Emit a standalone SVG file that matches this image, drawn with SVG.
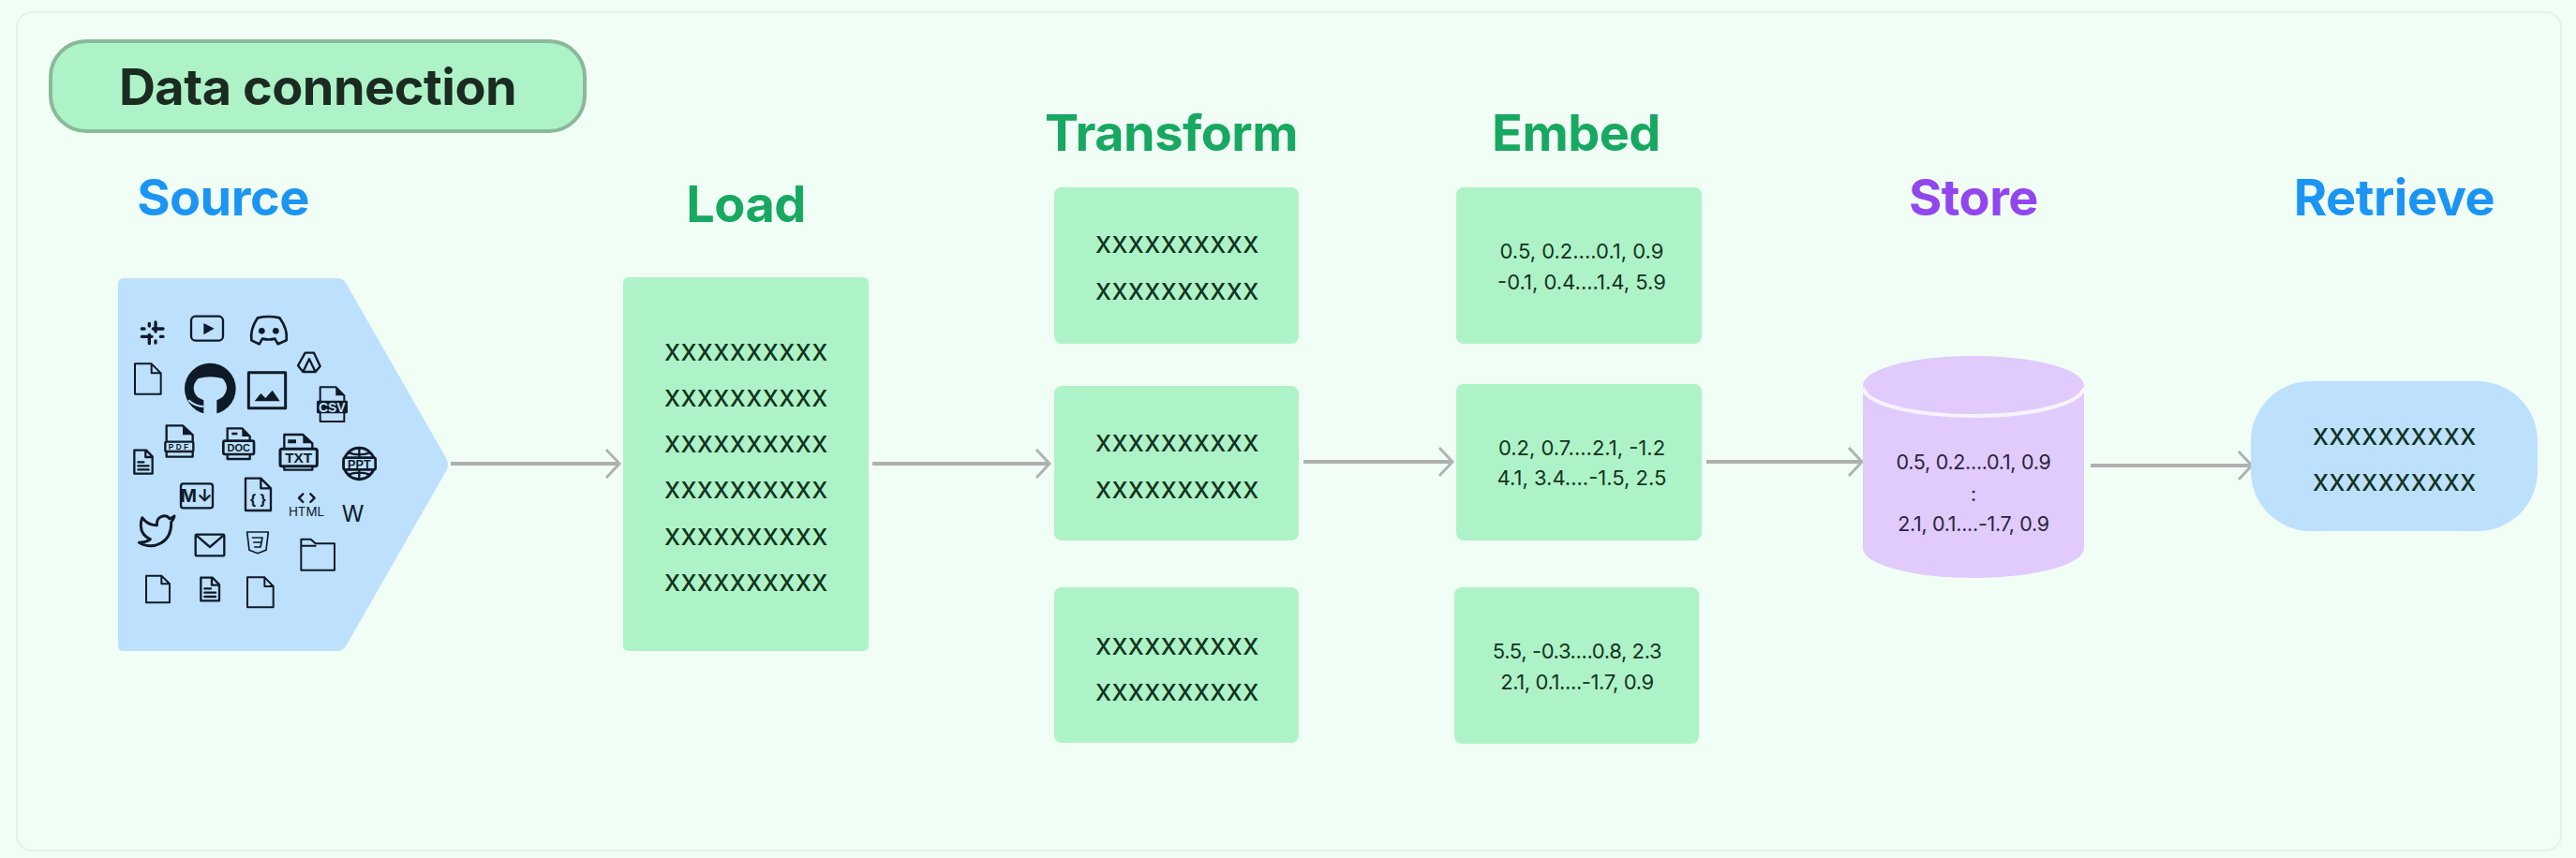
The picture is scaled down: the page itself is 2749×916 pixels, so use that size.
<svg xmlns="http://www.w3.org/2000/svg" width="2749" height="916" viewBox="0 0 2749 916">
<style>
text{font-family:"Inter","Liberation Sans",sans-serif}
.h{font-size:54px;font-weight:700;text-anchor:middle;letter-spacing:-.5px}
.g{fill:#17a862}.b{fill:#1a95f3}.p{fill:#9146ee}
.x{font-size:32px;fill:#10331f;text-anchor:middle}
.n{font-size:22px;fill:#14331f;text-anchor:middle}
.s{font-size:21.5px;letter-spacing:-.3px;fill:#2a2440}
.gb{fill:#aef3c7}
.arrow{fill:none;stroke:#aeb0ae;stroke-width:4;marker-end:url(#head)}
.i{fill:none;stroke:#0e1a26;stroke-width:7;stroke-linejoin:round;stroke-linecap:round}
.f{fill:#0e1a26;stroke:none}
.t{font-weight:700;fill:#0e1a26;text-anchor:middle;font-family:"Liberation Sans",sans-serif}
.w{font-weight:700;fill:#bde0fd;text-anchor:middle;font-family:"Liberation Sans",sans-serif}
</style>
<defs>
<marker id="head" markerUnits="userSpaceOnUse" markerWidth="24" markerHeight="36" refX="18" refY="18" orient="auto"><path d="M4 3L18 18L4 33" fill="none" stroke="#aeb4b0" stroke-width="3"/></marker>
</defs>
<rect width="2749" height="916" fill="#f1fef6"/>
<rect id="frame" x="18" y="13" width="2715" height="895" rx="16" fill="#f1fef6" stroke="#e0f3e8" stroke-width="2"/>

<g id="connectors">
<path class="arrow" d="M481 495H661"/>
<path class="arrow" d="M931 495H1120"/>
<path class="arrow" d="M1391 493H1550"/>
<path class="arrow" d="M1821 493H1987"/>
<path class="arrow" d="M2231 497H2403"/>
</g>

<g id="title"><rect x="54" y="44" width="570" height="96" rx="38" fill="#aef3c7" stroke="#8ab998" stroke-width="4"/>
<text x="339" y="112" font-size="54" font-weight="700" fill="#1b2b22" text-anchor="middle" letter-spacing="-.5">Data connection</text></g>

<g id="source">
<text class="h b" x="238" y="230">Source</text>
<path d="M132 297H360Q366 297 369 302L476 489Q480 496 476 503L369 690Q366 695 360 695H132Q126 695 126 689V303Q126 297 132 297Z" fill="#bde0fd"/>
<g id="icons" transform="translate(110 280) scale(.33333)">
<!-- slack -->
<g class="i" style="stroke-width:10"><path d="M168 192V222M148 232V260M124 238H156M160 213H192M148 196V204M192 238H184M124 213H132M168 252V258"/></g>
<!-- youtube -->
<rect class="i" x="282" y="173" width="102" height="78" rx="14"/><path class="f" d="M322 195L356 212L322 232Z"/>
<!-- discord -->
<path class="i" style="stroke-width:8" d="M495 178Q530 170 565 178Q592 215 587 250L560 262L550 245Q530 250 510 245L500 262L475 250Q470 215 495 178Z"/><circle class="f" cx="508" cy="220" r="10"/><circle class="f" cx="553" cy="220" r="10"/>
<!-- file 1 -->
<path class="i" style="stroke-width:6" d="M102 325H155L185 355V422H102ZM155 325V355H185"/>
<!-- github -->
<circle class="f" cx="343" cy="405" r="82"/>
<path d="M305 372Q343 362 382 372Q396 385 396 405Q392 432 364 442V492H322V442Q292 432 290 405Q290 385 305 372Z" fill="#bde0fd"/>
<path d="M274 442Q294 462 322 462" fill="none" stroke="#bde0fd" stroke-width="6"/>
<!-- image -->
<rect class="i" style="stroke-width:9" x="466" y="353" width="118" height="114"/><path class="f" d="M485 445L505 420L520 435L542 410L566 445Z"/>
<!-- drive -->
<path class="i" d="M647 290H675L695 333L680 351H640L624 331ZM660 310L680 351M660 310L640 351"/>
<!-- csv -->
<path class="i" style="stroke-width:6" d="M695 444V400H745L772 427V444M695 484V510H772V484"/><path class="f" d="M745 400L772 427H745Z"/>
<rect class="f" x="684" y="443" width="99" height="41" rx="4"/><text class="w" x="733" y="479" font-size="42">CSV</text>
<!-- pdf -->
<path class="i" d="M203 573V523H255L287 553V573M203 607V623H287V607"/><path class="f" d="M255 525V553H285Z"/>
<rect x="199" y="575" width="90" height="31" rx="4" fill="#bde0fd" stroke="#0e1a26" stroke-width="7"/><text class="t" x="245" y="600" font-size="25" letter-spacing="7">PDF</text>
<!-- doc -->
<path class="i" d="M398 570V532H445L470 558V570M398 617V630H470V617"/><path class="f" d="M412 545h18v8h-18zM445 534V558H468Z"/>
<rect x="385" y="572" width="98" height="43" rx="5" fill="#bde0fd" stroke="#0e1a26" stroke-width="8"/><text class="t" x="434" y="606" font-size="33">DOC</text>
<!-- txt -->
<path class="i" d="M580 597V552H640L670 580V597M580 653V665H670V653"/><path class="f" d="M592 568h26v12h-26zM640 554V580H668Z"/>
<rect x="567" y="598" width="118" height="55" rx="6" fill="#bde0fd" stroke="#0e1a26" stroke-width="9"/><text class="t" x="626" y="643" font-size="46">TXT</text>
<!-- ppt -->
<circle class="i" style="stroke-width:9" cx="820" cy="645" r="50"/><path class="i" d="M820 595V695M785 610Q820 622 855 610M785 680Q820 668 855 680"/>
<rect x="770" y="626" width="102" height="38" rx="5" fill="#bde0fd" stroke="#0e1a26" stroke-width="8"/><text class="t" x="820" y="659" font-size="38">PPT</text>
<!-- small doc -->
<path class="i" d="M100 602H138L158 622V677H100ZM136 602V624H158M112 640H130M112 652H146M112 664H146"/>
<!-- markdown -->
<rect class="i" x="249" y="709" width="102" height="78" rx="8"/><text x="299" y="769" font-size="56" font-weight="700" fill="#0e1a26" text-anchor="middle" font-family="Lato,sans-serif">M↓</text>
<!-- json -->
<path class="i" d="M456 692H505L537 724V795H456ZM505 692V724H537"/><text x="496" y="776" font-size="46" font-weight="700" fill="#0e1a26" text-anchor="middle" font-family="Liberation Sans,sans-serif">{ }</text>
<!-- html -->
<path class="i" d="M640 742L627 755L640 768M664 742L677 755L664 768"/><text x="651" y="812" font-size="40" fill="#0e1a26" text-anchor="middle" font-family="Liberation Sans,sans-serif">HTML</text>
<!-- wikipedia -->
<text x="800" y="832" font-size="72" fill="#0e1a26" text-anchor="middle" font-family="Liberation Serif,serif">W</text>
<!-- twitter -->
<path transform="translate(110 797) scale(5.15 5.3)" d="M23 3a10.9 10.9 0 0 1-3 1.53 4.48 4.48 0 0 0-7.86 3v1A10.66 10.66 0 0 1 3 4s-4 9 5 13a11.64 11.64 0 0 1-7 2c9 5 20 0 20-11.5a4.5 4.5 0 0 0-.08-.83A7.72 7.72 0 0 0 23 3z" fill="none" stroke="#0e1a26" stroke-width="1.7" stroke-linejoin="round"/>
<!-- envelope -->
<rect class="i" x="296" y="872" width="92" height="68" rx="4"/><path class="i" d="M298 874L342 912L386 874"/>
<!-- css -->
<path class="i" style="stroke-width:5" d="M461 864H529L522 922L495 932L468 922Z"/><path class="i" style="stroke-width:5" d="M478 882H510L504 912L485 912M482 897H505"/>
<!-- folder -->
<path class="i" style="stroke-width:6" d="M634 986V887H665L680 901H741V986ZM634 908H680"/>
<!-- file 2 -->
<path class="i" style="stroke-width:6" d="M138 1004H187L213 1030V1090H138ZM187 1004V1030H213"/>
<!-- doc 2 -->
<path class="i" d="M313 1010H350L372 1032V1084H313ZM348 1010V1034H372M325 1045H345M325 1058H360M325 1071H360"/>
<!-- file 3 -->
<path class="i" style="stroke-width:6" d="M462 1009H517L545 1038V1105H462ZM517 1009V1038H545"/>
</g>
</g>

<g id="load">
<text class="h g" x="796" y="237">Load</text>
<rect class="gb" x="665" y="296" width="262" height="399" rx="6"/>
<text class="x" x="796" y="385">xxxxxxxxxx</text><text class="x" x="796" y="434">xxxxxxxxxx</text><text class="x" x="796" y="483">xxxxxxxxxx</text><text class="x" x="796" y="532">xxxxxxxxxx</text><text class="x" x="796" y="582">xxxxxxxxxx</text><text class="x" x="796" y="631">xxxxxxxxxx</text>
</g>

<text class="h g" id="transform-title" x="1250" y="161">Transform</text>
<g id="transform-1"><rect class="gb" x="1125" y="200" width="261" height="167" rx="8"/><text class="x" x="1256" y="270">xxxxxxxxxx</text><text class="x" x="1256" y="320">xxxxxxxxxx</text></g>
<g id="transform-2"><rect class="gb" x="1125" y="412" width="261" height="165" rx="8"/><text class="x" x="1256" y="482">xxxxxxxxxx</text><text class="x" x="1256" y="532">xxxxxxxxxx</text></g>
<g id="transform-3"><rect class="gb" x="1125" y="627" width="261" height="166" rx="8"/><text class="x" x="1256" y="699">xxxxxxxxxx</text><text class="x" x="1256" y="748">xxxxxxxxxx</text></g>

<text class="h g" id="embed-title" x="1682" y="161">Embed</text>
<g id="embed-1"><rect class="gb" x="1554" y="200" width="262" height="167" rx="8"/><text class="n" x="1688" y="276">0.5, 0.2....0.1, 0.9</text><text class="n" x="1688" y="309">-0.1, 0.4....1.4, 5.9</text></g>
<g id="embed-2"><rect class="gb" x="1554" y="410" width="262" height="167" rx="8"/><text class="n" x="1688" y="486">0.2, 0.7....2.1, -1.2</text><text class="n" x="1688" y="518">4.1, 3.4....-1.5, 2.5</text></g>
<g id="embed-3"><rect class="gb" x="1552" y="627" width="261" height="167" rx="8"/><text class="n" x="1683" y="703" style="letter-spacing:-.4px">5.5, -0.3....0.8, 2.3</text><text class="n" x="1683" y="736" style="letter-spacing:-.4px">2.1, 0.1....-1.7, 0.9</text></g>

<g id="store">
<text class="h p" x="2106" y="230">Store</text>
<path d="M1988 412C1988 394 2041 380 2106 380C2171 380 2224 394 2224 412V585C2224 603 2171 617 2106 617C2041 617 1988 603 1988 585Z" fill="#e0cbfc"/>
<path d="M1988 414C1992 432 2045 444 2106 444C2167 444 2220 432 2224 414" fill="none" stroke="#f7f3fd" stroke-width="4"/>
<text class="n s" x="2106" y="501">0.5, 0.2....0.1, 0.9</text><text class="n s" x="2106" y="535">:</text><text class="n s" x="2106" y="567">2.1, 0.1....-1.7, 0.9</text>
</g>

<g id="retrieve">
<text class="h b" x="2555" y="230">Retrieve</text>
<rect x="2402" y="407" width="306" height="160" rx="64" fill="#bde0fd"/>
<text class="x" x="2555" y="475">xxxxxxxxxx</text><text class="x" x="2555" y="524">xxxxxxxxxx</text>
</g>
</svg>
